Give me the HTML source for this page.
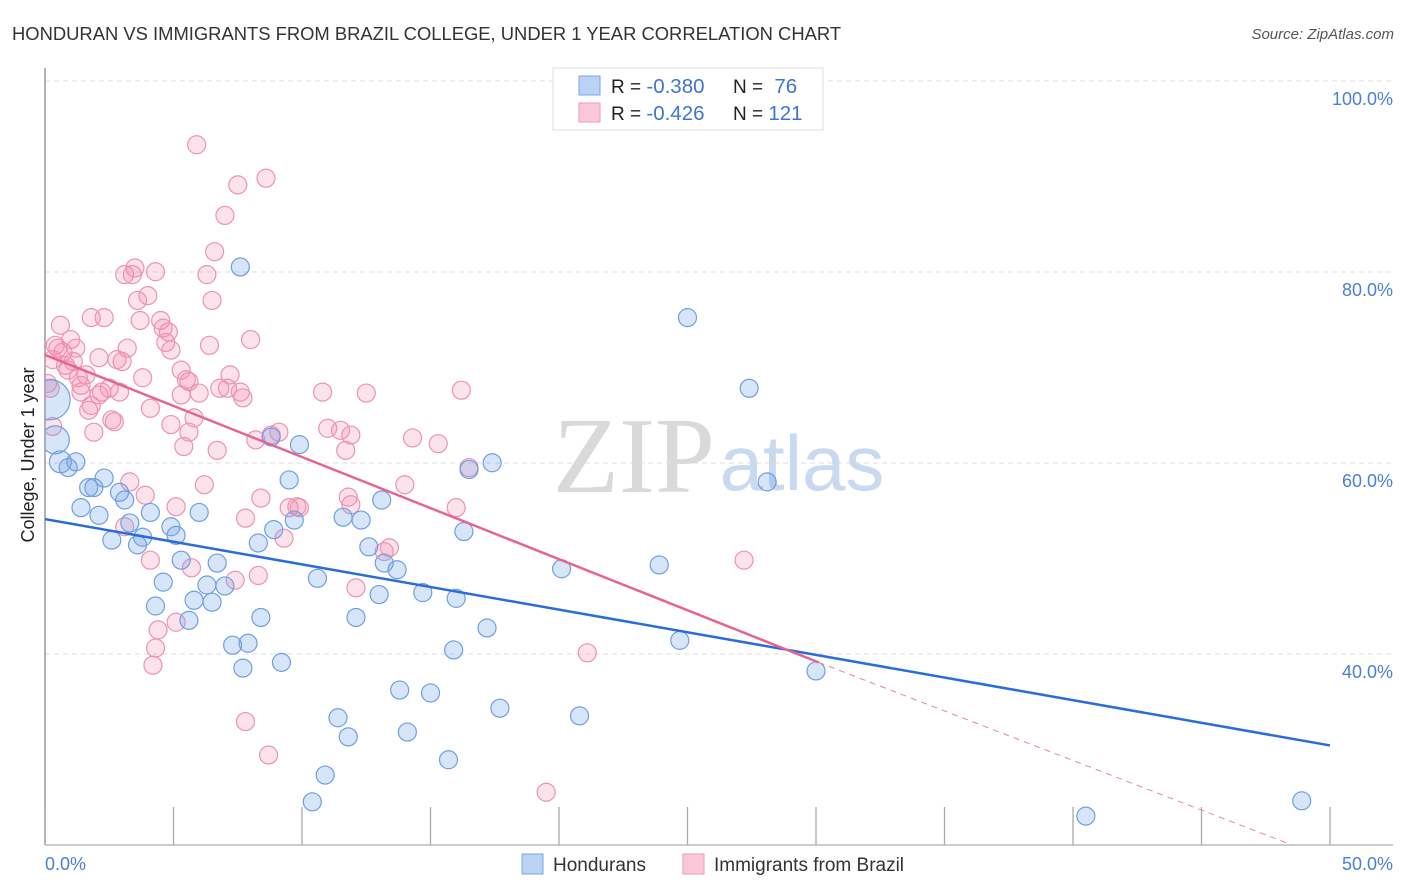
<!DOCTYPE html>
<html><head><meta charset="utf-8"><style>
body{margin:0;background:#fff;font-family:"Liberation Sans",sans-serif}
svg{display:block}
</style></head><body>
<svg id="chart" width="1406" height="892">
<text x="12" y="40" font-size="18.4" fill="#333">HONDURAN VS IMMIGRANTS FROM BRAZIL COLLEGE, UNDER 1 YEAR CORRELATION CHART</text>
<text x="1394" y="39" font-size="15" fill="#555" font-style="italic" text-anchor="end">Source: ZipAtlas.com</text>
<text x="634" y="492" font-size="108" fill="#d9d9d9" font-family="Liberation Serif,serif" text-anchor="middle">ZIP</text>
<text x="802" y="490" font-size="78" fill="#c8d9f0" text-anchor="middle">atlas</text>
<text transform="translate(34,455) rotate(-90)" font-size="18" fill="#222" text-anchor="middle">College, Under 1 year</text>
<g id="grid"></g>
<line x1="45" y1="68" x2="45" y2="845" stroke="#999" stroke-width="1.5"/>
<line x1="45" y1="845" x2="1393" y2="845" stroke="#bbb" stroke-width="1.5"/>
<g id="xticks"></g>
<defs><clipPath id="plotclip"><rect x="45" y="60" width="1350" height="785"/></clipPath></defs>
<g id="pts" clip-path="url(#plotclip)"></g>
<g id="trends" clip-path="url(#plotclip)"></g>
<text x="45" y="870" font-size="18" fill="#4a7fd6">0.0%</text>
<text x="1393" y="870" font-size="18" fill="#4a7fd6" text-anchor="end">50.0%</text>
<g>
<rect x="553" y="68" width="270" height="62" fill="#fff" stroke="#ddd"/>
<rect x="579" y="76" width="21" height="19" fill="#b9d3f5" stroke="#7aa6e0"/>
<rect x="579" y="103" width="21" height="19" fill="#fac8d8" stroke="#ee9ab6"/>
<text x="611" y="93" font-size="19" fill="#222">R = <tspan fill="#3d75d0" font-size="20.5">-0.380</tspan></text>
<text x="733" y="93" font-size="19" fill="#222">N = <tspan fill="#3d75d0" dx="6" font-size="20.5">76</tspan></text>
<text x="611" y="120" font-size="19" fill="#222">R = <tspan fill="#3d75d0" font-size="20.5">-0.426</tspan></text>
<text x="733" y="120" font-size="19" fill="#222">N = <tspan fill="#3d75d0" font-size="20.5">121</tspan></text>
</g>
<g>
<rect x="522" y="854" width="21" height="20" fill="#b9d3f5" stroke="#7aa6e0"/>
<text x="553" y="871" font-size="19" fill="#333">Hondurans</text>
<rect x="683" y="854" width="21" height="20" fill="#fac8d8" stroke="#ee9ab6"/>
<text x="714" y="871" font-size="19" fill="#333">Immigrants from Brazil</text>
</g>
</svg>
<script>
const yTicks=[100,80,60,40];
const yTickLabels=["100.0%","80.0%","60.0%","40.0%"];
const xTickVals=[0,5,10,15,20,25,30,35,40,45,50];
const hondX=[0.2,0.4,0.6,0.9,1.2,1.4,1.7,1.9,2.1,2.3,2.6,2.9,3.1,3.3,3.6,3.8,4.1,4.3,4.6,4.9,5.1,5.3,5.6,5.8,6.0,6.3,6.5,6.7,7.0,7.3,7.6,7.7,7.9,8.3,8.4,8.8,8.9,9.2,9.5,9.7,9.9,10.4,10.6,10.9,11.4,11.6,11.8,12.1,12.3,12.6,13.0,13.1,13.2,13.7,13.8,14.1,14.7,15.0,15.7,15.9,16.0,16.5,16.3,17.2,17.4,17.7,20.1,20.8,23.9,24.7,25.0,27.4,28.1,30.0,40.5,48.9];
const hondY=[68.3,64.1,61.8,61.2,61.8,57.0,59.1,59.1,56.2,60.1,53.6,58.6,57.8,55.4,53.1,53.9,56.5,46.7,49.2,55.0,54.1,51.5,45.2,47.3,56.5,48.9,47.1,51.2,48.8,42.6,82.2,40.2,42.8,53.3,45.5,64.4,54.7,40.8,59.9,55.7,63.6,26.2,49.6,29.0,35.0,56.0,33.0,45.5,55.7,52.9,47.9,57.8,51.2,50.5,37.9,33.5,48.1,37.6,30.6,42.1,47.5,61.0,54.5,44.4,61.7,36.0,50.6,35.2,51.0,43.1,76.9,69.5,59.7,39.9,24.7,26.3];
const hondSize=[20,14,11,9,9,9,9,9,9,9,9,9,9,9,9,9,9,9,9,9,9,9,9,9,9,9,9,9,9,9,9,9,9,9,9,9,9,9,9,9,9,9,9,9,9,9,9,9,9,9,9,9,9,9,9,9,9,9,9,9,9,9,9,9,9,9,9,9,9,9,9,9,9,9,9,9];
const brazX=[0.2,0.3,0.4,0.5,0.6,0.7,0.8,0.9,1.0,1.1,1.2,1.3,1.4,1.4,1.6,1.7,1.8,1.8,1.9,2.1,2.1,2.2,2.3,2.5,2.6,2.7,2.8,2.9,3.0,3.1,3.1,3.2,3.3,3.4,3.5,3.6,3.7,3.8,3.9,4.0,4.1,4.1,4.2,4.3,4.3,4.4,4.5,4.6,4.7,4.8,4.9,4.9,5.1,5.1,5.3,5.3,5.4,5.5,5.6,5.6,5.7,5.8,5.9,6.0,6.2,6.3,6.4,6.5,6.6,6.7,6.8,7.0,7.1,7.2,7.4,7.5,7.6,7.7,7.8,7.8,8.0,8.2,8.3,8.4,8.6,8.7,8.8,9.1,9.3,9.5,9.8,9.9,10.8,11.0,11.5,11.7,11.8,11.9,11.9,12.1,12.5,13.2,13.4,14.0,14.3,15.3,16.0,16.2,16.5,19.5,21.1,27.2,0.1,0.3];
const brazY=[69.5,72.5,74.0,73.7,76.1,73.3,71.9,71.4,74.6,72.3,73.7,70.6,69.1,69.8,70.9,67.2,76.9,67.7,64.9,72.7,68.8,69.1,76.9,69.5,66.2,66.0,72.5,69.1,72.3,81.4,55.0,73.7,59.7,81.4,82.1,78.7,76.6,70.6,58.3,79.2,51.5,67.4,40.5,42.3,81.7,44.2,76.6,75.8,74.3,75.4,73.5,65.7,45.0,57.1,68.8,71.4,63.4,70.4,70.2,64.9,50.7,66.4,95.0,69.0,59.4,81.4,74.0,78.7,83.8,63.0,69.5,87.6,69.5,70.9,49.4,90.8,69.1,68.5,34.6,55.9,74.6,64.1,49.9,58.0,91.5,31.1,64.6,64.9,53.8,57.0,57.1,57.0,69.1,65.3,65.1,63.0,58.1,57.3,64.6,48.6,69.0,52.4,52.8,59.4,64.3,63.7,57.0,69.3,61.2,27.2,41.8,51.5,70.0,65.5];
const hondTrend=[[0,55.8],[50,32.1]];
const brazTrendSolid=[[0,73.0],[30.1,40.8]];
const brazTrendDash=[[30.1,40.8],[48.5,21.7]];

const NS="http://www.w3.org/2000/svg";
const xS=v=>45+v*25.7;
const yS=v=>1052-v*9.55;
function mk(tag,attrs,parent){const e=document.createElementNS(NS,tag);for(const k in attrs)e.setAttribute(k,attrs[k]);parent.appendChild(e);return e;}
const grid=document.getElementById('grid');
yTicks.forEach((t,i)=>{
  const gy=yS(t)-16;
  const l=mk('line',{x1:45,x2:1393,y1:gy,y2:gy,stroke:'#ddd','stroke-dasharray':'5,4'},grid);
  
  
  const tx=mk('text',{x:1393,y:gy+24,'font-size':18,fill:'#4a7fd6','text-anchor':'end'},grid);
  tx.textContent=yTickLabels[i];
  
  
});
const xt=document.getElementById('xticks');
xTickVals.forEach(t=>{
  const l=mk('line',{x1:xS(t),x2:xS(t),y1:807,y2:845,stroke:'#aaa','stroke-width':1.3},xt);
  
  
});
const pts=document.getElementById('pts');
brazX.forEach((x,i)=>{
  const c=mk('circle',{cx:xS(x),cy:yS(brazY[i]),r:9,fill:'rgba(242,140,175,0.25)',stroke:'#ec93b2','stroke-width':1.2},pts);
  
  
});
hondX.forEach((x,i)=>{
  const c=mk('circle',{cx:xS(x),cy:yS(hondY[i]),r:hondSize[i],fill:'rgba(110,160,235,0.28)',stroke:'#6f9fe0','stroke-width':1.2},pts);
  
  
});
const tr=document.getElementById('trends');
let l1=mk('line',{x1:xS(hondTrend[0][0]),y1:yS(hondTrend[0][1]),x2:xS(hondTrend[1][0]),y2:yS(hondTrend[1][1]),stroke:'#2a6dd9','stroke-width':2.5},tr);


let l2=mk('line',{x1:xS(brazTrendSolid[0][0]),y1:yS(brazTrendSolid[0][1]),x2:xS(brazTrendSolid[1][0]),y2:yS(brazTrendSolid[1][1]),stroke:'#e8648f','stroke-width':2.5},tr);


let l3=mk('line',{x1:xS(brazTrendDash[0][0]),y1:yS(brazTrendDash[0][1]),x2:xS(brazTrendDash[1][0]),y2:yS(brazTrendDash[1][1]),stroke:'#e8849f','stroke-width':1,'stroke-dasharray':'6,5'},tr);


</script>
</body></html>
